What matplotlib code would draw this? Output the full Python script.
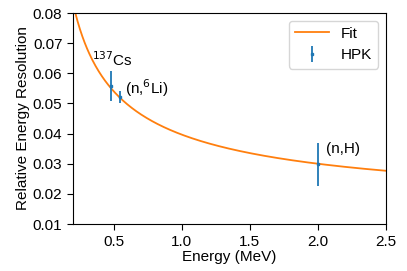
import numpy as np
import matplotlib
matplotlib.use('Agg')
import matplotlib.pyplot as plt

plt.rcParams['font.family'] = ['Liberation Sans', 'DejaVu Sans']

# measured points (HPK)
energy = [0.477, 0.55, 2.0]
resolution = [0.0557, 0.0521, 0.0298]
res_err = [0.0050, 0.0021, 0.0070]
labels = ['$^{137}$Cs', '(n,$^{6}$Li)', '(n,H)']
label_pos = [(0.34, 0.0625), (0.58, 0.0533), (2.06, 0.0335)]

# fit parameters: sigma/E = sqrt(a^2/E + c^2)
fit_a = 0.0367
fit_c = 0.0151

fig = plt.figure(figsize=(4.07, 2.71), dpi=100)
ax = fig.add_axes([0.179, 0.173, 0.769, 0.779])

e_fit = np.linspace(0.2, 2.5, 400)
ax.plot(e_fit, np.sqrt(fit_a**2 / e_fit + fit_c**2), color='tab:orange', lw=1.3, label='Fit')
ax.errorbar(energy, resolution, yerr=res_err, fmt='s', ms=2, color='tab:blue',
            elinewidth=1.3, capsize=0, label='HPK')

for lab, (x, y) in zip(labels, label_pos):
    ax.text(x, y, lab, fontsize=11)

ax.set_xlim(0.2, 2.5)
ax.set_ylim(0.01, 0.08)
ax.set_xticks([0.5, 1.0, 1.5, 2.0, 2.5])
ax.set_yticks(np.arange(0.01, 0.081, 0.01))
ax.set_xlabel('Energy (MeV)', fontsize=11, labelpad=1)
ax.set_ylabel('Relative Energy Resolution', fontsize=11, labelpad=2)
ax.tick_params(direction='out', length=4, labelsize=11)
ax.legend(loc='upper right', fontsize=11, handlelength=2.2)

fig.savefig('out.png', dpi=100)
